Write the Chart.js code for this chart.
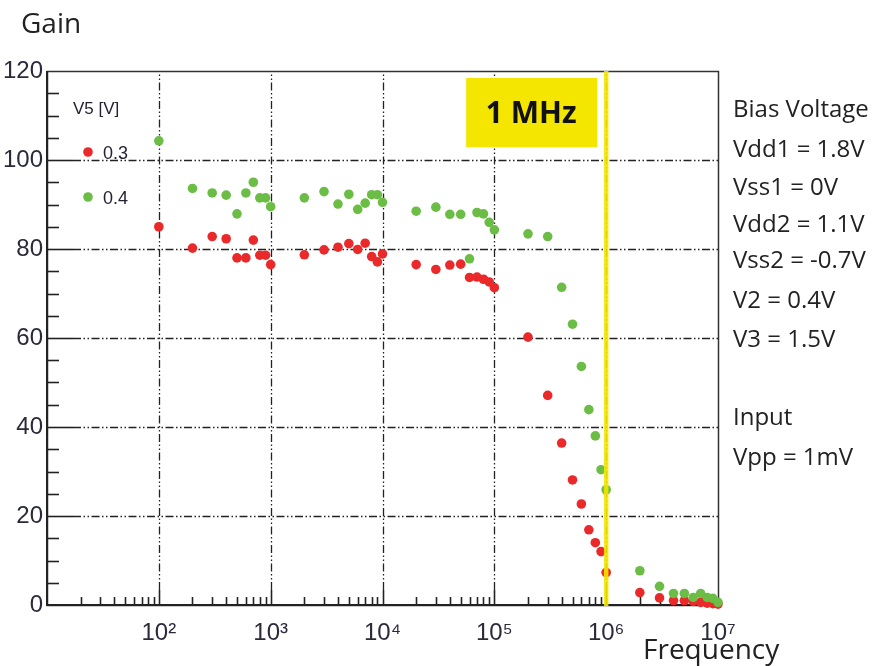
<!DOCTYPE html>
<html><head><meta charset="utf-8">
<script src="https://cdn.jsdelivr.net/npm/chart.js@4"></script>
<style>html,body{margin:0;padding:0;background:#fff;}#wrap{width:877px;height:666px;position:relative;}canvas{display:block;}</style>
</head><body><div id="wrap"><canvas id="c" width="877" height="666"></canvas></div>
<script>
// ---- data ----
const frequencies = [100,
  200,300,400,500,600,700,800,900,1000,
  2000,3000,4000,5000,6000,7000,8000,9000,10000,
  20000,30000,40000,50000,60000,70000,80000,90000,100000,
  200000,300000,400000,500000,600000,700000,800000,900000,1000000,
  2000000,3000000,4000000,5000000,6000000,7000000,8000000,9000000,10000000];
const gainV5_03 = [85.0,
  80.2,82.8,82.3,78.0,78.0,82.0,78.6,78.6,76.5,
  78.7,79.8,80.4,81.2,79.9,81.3,78.3,77.1,78.9,
  76.5,75.4,76.4,76.6,73.6,73.7,73.2,72.6,71.3,
  60.2,47.1,36.4,28.1,22.7,16.9,14.0,12.0,7.3,
  2.8,1.6,1.0,1.0,0.8,0.6,0.4,0.3,0.2];
const gainV5_04 = [104.3,
  93.6,92.6,92.1,87.9,92.6,95.0,91.5,91.5,89.5,
  91.5,92.9,90.1,92.3,88.9,90.3,92.2,92.2,90.5,
  88.5,89.4,87.8,87.8,77.8,88.2,87.9,86.0,84.3,
  83.4,82.8,71.4,63.1,53.6,43.9,38.0,30.4,25.9,
  7.7,4.2,2.6,2.6,1.7,2.6,1.7,1.5,0.6];
const seriesLabels = ['0.3','0.4'];
const legendTitle = 'V5 [V]';
const yTickValues = [0,20,40,60,80,100,120];
const xDecades = [100,1000,10000,100000,1000000,10000000];
const xTickLabels = ['10\u00B2','10\u00B3','10\u2074','10\u2075','10\u2076','10\u2077'];
const markerFrequency = 1000000;
const markerLabel = '1 MHz';
const yTitle = 'Gain';
const xTitle = 'Frequency';
const notes = ['Bias Voltage','Vdd1 = 1.8V','Vss1 = 0V','Vdd2 = 1.1V','Vss2 = -0.7V','V2 = 0.4V','V3 = 1.5V','','Input','Vpp = 1mV'];

// ---- style ----
const RED = '#ea2a2a', GREEN = '#6cbd45', YELLOW = '#f4e600', INK = '#222222';
const numFont = "'Liberation Sans Narrow','Liberation Sans',Arial,sans-serif";
const txtFont = "'Open Sans','Noto Sans',sans-serif";

const toPoints = (ys) => frequencies.map((f, i) => ({x: f, y: ys[i]}));

const decor = {
  id: 'decor',
  beforeDatasetsDraw(chart) {
    const ctx = chart.ctx, a = chart.chartArea, xs = chart.scales.x, ys = chart.scales.y;
    ctx.save();
    ctx.strokeStyle = INK;
    const dash = [8,2.5,1.5,2.5,1.5,2.5];
    for (let v = 5; v < 120; v += 5) {
      const py = Math.round(ys.getPixelForValue(v)) + 0.5;
      if (v % 20 === 0) {
        ctx.lineWidth = 1.6; ctx.setLineDash([]);
        ctx.beginPath(); ctx.moveTo(a.left, py); ctx.lineTo(a.left + 26, py); ctx.stroke();
        ctx.lineWidth = 1.3; ctx.setLineDash(dash);
        ctx.beginPath(); ctx.moveTo(a.left + 26, py); ctx.lineTo(a.right, py); ctx.stroke();
      } else {
        ctx.lineWidth = 1.6; ctx.setLineDash([]);
        ctx.beginPath(); ctx.moveTo(a.left, py); ctx.lineTo(a.left + 12, py); ctx.stroke();
      }
    }
    for (let d = 10; d < 1e7; d *= 10) {
      for (let k = 1; k <= 9; k++) {
        const v = d * k;
        if (v <= 10) continue;
        const px = Math.round(xs.getPixelForValue(v)) + 0.5;
        ctx.setLineDash([]); ctx.lineWidth = 1.6;
        if (k === 1) {
          ctx.beginPath(); ctx.moveTo(px, a.bottom); ctx.lineTo(px, a.bottom - 15); ctx.stroke();
          ctx.lineWidth = 1.3; ctx.setLineDash(dash);
          ctx.beginPath(); ctx.moveTo(px, a.bottom - 15); ctx.lineTo(px, a.top); ctx.stroke();
        } else {
          ctx.beginPath(); ctx.moveTo(px, a.bottom); ctx.lineTo(px, a.bottom - 8); ctx.stroke();
        }
      }
    }
    ctx.setLineDash([]);
    ctx.strokeStyle = '#333'; ctx.lineWidth = 1.5;
    ctx.strokeRect(a.left + 0.5, a.top + 0.5, a.right - a.left, a.bottom - a.top);
    ctx.strokeStyle = INK; ctx.lineWidth = 2;
    ctx.beginPath(); ctx.moveTo(a.left, a.top); ctx.lineTo(a.left, a.bottom); ctx.lineTo(a.right, a.bottom); ctx.stroke();
    const mx = xs.getPixelForValue(markerFrequency);
    ctx.fillStyle = YELLOW;
    ctx.fillRect(mx - 140, a.top + 7, 131, 69);
    ctx.fillStyle = '#111';
    ctx.font = "bold 30px " + txtFont;
    ctx.textAlign = 'center'; ctx.textBaseline = 'middle';
    ctx.fillText(markerLabel, mx - 75, a.top + 43);
    ctx.restore();
  },
  afterDatasetsDraw(chart) {
    const ctx = chart.ctx, a = chart.chartArea, xs = chart.scales.x;
    ctx.save();
    const mx = xs.getPixelForValue(markerFrequency);
    ctx.strokeStyle = YELLOW; ctx.globalAlpha = 0.9; ctx.lineWidth = 4.5;
    ctx.beginPath(); ctx.moveTo(mx, a.top); ctx.lineTo(mx, a.bottom + 1); ctx.stroke();
    ctx.globalAlpha = 1;
    ctx.fillStyle = INK; ctx.textAlign = 'left'; ctx.textBaseline = 'alphabetic';
    ctx.font = "28px " + txtFont;
    ctx.fillText(yTitle, 21, 33);
    ctx.fillText(xTitle, 643, 659);
    ctx.font = "24px " + txtFont;
    const base = [117,157,195,232,268,308,347,386,425,465];
    notes.forEach((t, i) => { if (t) ctx.fillText(t, a.right + 15, base[i]); });
    ctx.font = "17px " + numFont; ctx.fillStyle = '#223';
    ctx.fillText(legendTitle, a.left + 26, 114);
    const cols = [RED, GREEN];
    [152, 197].forEach((py, i) => {
      ctx.fillStyle = cols[i];
      ctx.beginPath(); ctx.arc(a.left + 41, py, 4.8, 0, Math.PI * 2); ctx.fill();
      ctx.fillStyle = '#223'; ctx.font = "18px " + numFont;
      ctx.fillText(seriesLabels[i], a.left + 56, py + 7);
    });
    ctx.restore();
  }
};

new Chart(document.getElementById('c'), {
  type: 'scatter',
  data: {
    datasets: [
      {label: seriesLabels[1], data: toPoints(gainV5_04), backgroundColor: GREEN, borderWidth: 0, pointRadius: 4.8, pointHoverRadius: 4.8, clip: false},
      {label: seriesLabels[0], data: toPoints(gainV5_03), backgroundColor: RED, borderWidth: 0, pointRadius: 4.8, pointHoverRadius: 4.8, clip: false}
    ]
  },
  options: {
    responsive: false, animation: false, devicePixelRatio: 1,
    layout: {padding: {left: 0, right: 159, top: 71, bottom: 0}},
    plugins: {legend: {display: false}, tooltip: {enabled: false}},
    scales: {
      x: {
        type: 'logarithmic', position: 'bottom', min: 10, max: 1e7,
        grid: {display: false, drawTicks: false}, border: {display: false},
        afterBuildTicks: (s) => { s.ticks = xDecades.map(v => ({value: v})); },
        afterFit: (s) => { s.height = 61; },
        ticks: {
          autoSkip: false, maxRotation: 0, padding: 14, color: '#2a2a3a',
          font: {family: numFont, size: 24},
          callback: (v) => { const i = xDecades.indexOf(v); return i >= 0 ? xTickLabels[i] : ''; }
        }
      },
      y: {
        min: 0, max: 120,
        grid: {display: false, drawTicks: false}, border: {display: false},
        afterBuildTicks: (s) => { s.ticks = yTickValues.map(v => ({value: v})); },
        afterFit: (s) => { s.width = 47; },
        ticks: {padding: 4, color: '#2a2a3a', font: {family: numFont, size: 24}}
      }
    }
  },
  plugins: [decor]
});
</script></body></html>
